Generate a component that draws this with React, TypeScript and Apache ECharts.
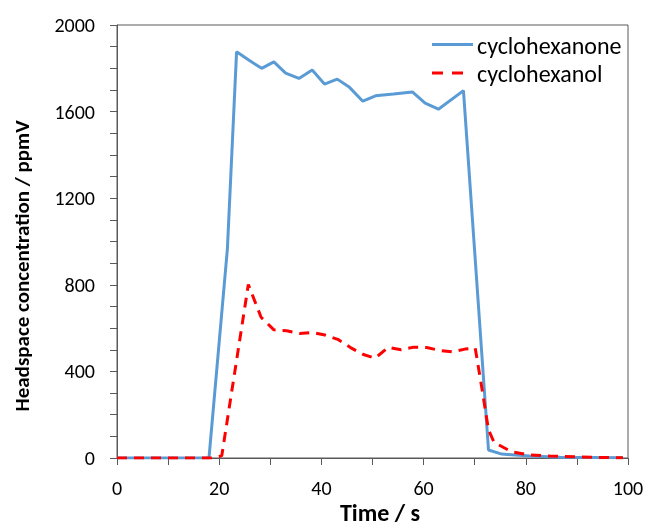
import React, { useEffect, useRef } from "react";
import * as echarts from "echarts";

const ketoneTimes = [0, 18, 21.6, 23.4, 25.7, 28.3, 30.7, 33.0, 35.6, 38.2, 40.6, 43.1, 45.5, 48.1, 50.6, 54.1, 57.8, 60.3, 62.9, 67.8, 72.7, 75.3, 80.8, 86.7, 99];
const ketoneValues = [0, 0, 965, 1876, 1839, 1800, 1830, 1778, 1753, 1792, 1727, 1750, 1712, 1648, 1673, 1681, 1691, 1639, 1611, 1697, 37, 18, 9, 3, 1];

const alcoholTimes = [0, 18.5, 20.5, 25.7, 28.2, 30.7, 33.2, 35.7, 38.2, 40.7, 43.2, 45.7, 48.2, 50.5, 53.1, 55.6, 58.1, 60.6, 63.1, 65.6, 68.1, 70.1, 71.4, 72.7, 73.8, 77.2, 80.8, 84.7, 93.2, 99];
const alcoholValues = [0, 0, 10, 801, 650, 592, 588, 575, 580, 568, 548, 510, 478, 461, 511, 500, 512, 510, 497, 490, 503, 508, 323, 130, 72, 29, 14, 9, 3, 1];

const seriesNames = ["cyclohexanone", "cyclohexanol"];
const xTitle = "Time / s";
const yTitle = "Headspace concentration / ppmV";

const FONT = "Carlito, Lato, sans-serif";
const BLUE = "#5B9BD5";
const RED = "#FF0000";

export default function App() {
  const ref = useRef<HTMLDivElement>(null);
  useEffect(() => {
    if (!ref.current) return;
    const chart = echarts.init(ref.current, undefined, { renderer: "svg" });
    const pair = (t: number[], v: number[]) => t.map((x, i) => [x, v[i]]);
    const axisColor = "#595959";
    chart.setOption({
      animation: false,
      textStyle: { fontFamily: FONT },
      grid: {
        left: 117,
        right: 25,
        top: 25,
        bottom: 70,
        show: true,
        borderColor: axisColor,
        borderWidth: 1,
        containLabel: false,
      },
      legend: { show: false },
      graphic: [
        {
          type: "line",
          shape: { x1: 432, y1: 44.5, x2: 473, y2: 44.5 },
          style: { stroke: BLUE, lineWidth: 3 },
        },
        {
          type: "text",
          x: 477,
          y: 45,
          style: { text: seriesNames[0], fontFamily: FONT, fontSize: 24, fill: "#000", verticalAlign: "middle", align: "left" },
        },
        {
          type: "line",
          shape: { x1: 432, y1: 73, x2: 463, y2: 73 },
          style: { stroke: RED, lineWidth: 3, lineDash: [11, 9] },
        },
        {
          type: "text",
          x: 477,
          y: 73,
          style: { text: seriesNames[1], fontFamily: FONT, fontSize: 24, fill: "#000", verticalAlign: "middle", align: "left" },
        },
        {
          type: "text",
          x: 380,
          y: 512,
          style: { text: xTitle, fontFamily: FONT, fontSize: 24, fontWeight: "bold", fill: "#000", verticalAlign: "middle", align: "center" },
        },
        {
          type: "text",
          x: 22,
          y: 266,
          rotation: Math.PI / 2,
          style: { text: yTitle, fontFamily: FONT, fontSize: 21, fontWeight: "bold", fill: "#000", verticalAlign: "middle", align: "center" },
        },
      ],
      xAxis: {
        type: "value",
        min: 0,
        max: 100,
        interval: 20,
        axisLine: { lineStyle: { color: axisColor, width: 1 } },
        axisTick: { show: true, inside: false, length: 7, lineStyle: { color: axisColor } },
        minorTick: { show: true, splitNumber: 2, length: 7, lineStyle: { color: axisColor } },
        splitLine: { show: false },
        axisLabel: { fontFamily: FONT, fontSize: 20, color: "#000", margin: 20 },
      },
      yAxis: {
        type: "value",
        min: 0,
        max: 2000,
        interval: 400,
        axisLine: { show: true, lineStyle: { color: axisColor, width: 1 } },
        axisTick: { show: true, inside: false, length: 7, lineStyle: { color: axisColor } },
        minorTick: { show: true, splitNumber: 4, length: 7, lineStyle: { color: axisColor } },
        splitLine: { show: false },
        axisLabel: { fontFamily: FONT, fontSize: 20, color: "#000", margin: 22, formatter: (v: number) => String(v) },
      },
      series: [
        {
          name: seriesNames[0],
          type: "line",
          data: pair(ketoneTimes, ketoneValues),
          showSymbol: false,
          symbol: "none",
          lineStyle: { color: BLUE, width: 3 },
          itemStyle: { color: BLUE },
          z: 2,
        },
        {
          name: seriesNames[1],
          type: "line",
          data: pair(alcoholTimes, alcoholValues),
          showSymbol: false,
          symbol: "none",
          lineStyle: { color: RED, width: 3, type: [10, 7] },
          itemStyle: { color: RED },
          z: 3,
        },
      ],
    });
    return () => chart.dispose();
  }, []);
  return <div ref={ref} style={{ position: "fixed", left: 0, top: 0, width: 653, height: 528 }} />;
}
